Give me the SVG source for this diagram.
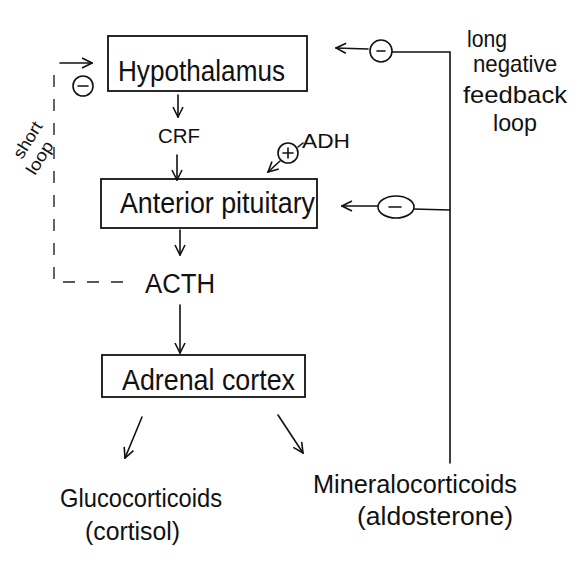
<svg xmlns="http://www.w3.org/2000/svg" width="586" height="578" viewBox="0 0 586 578">
<defs>
<style>
text{font-family:"Liberation Sans",Arial,sans-serif;fill:#111;}
.box{fill:none;stroke:#111;stroke-width:1.8;}
.ln{fill:none;stroke:#111;stroke-width:1.6;stroke-linecap:round;}
.dash{fill:none;stroke:#222;stroke-width:1.4;stroke-dasharray:12 12;}
.circ{fill:#fff;stroke:#111;stroke-width:1.6;}
</style>
<marker id="ah" viewBox="0 0 12 12" refX="11" refY="6" markerWidth="12" markerHeight="12" markerUnits="userSpaceOnUse" orient="auto">
<path d="M1,1 L11,6 L1,11" fill="none" stroke="#111" stroke-width="1.6"/>
</marker>
</defs>
<rect width="586" height="578" fill="#fff"/>
<g id="hypothalamus">
<rect class="box" x="108" y="36" width="199" height="55"/>
<text x="118" y="81" font-size="29" textLength="167" lengthAdjust="spacingAndGlyphs">Hypothalamus</text>
</g>
<g id="crf"><text x="158" y="143" font-size="20" textLength="42" lengthAdjust="spacingAndGlyphs">CRF</text></g>
<g id="anterior-pituitary">
<rect class="box" x="101" y="179" width="216" height="49"/>
<text x="120" y="213" font-size="29" textLength="195" lengthAdjust="spacingAndGlyphs">Anterior pituitary</text>
</g>
<g id="acth"><text x="145" y="293" font-size="27" textLength="70" lengthAdjust="spacingAndGlyphs">ACTH</text></g>
<g id="adrenal-cortex">
<rect class="box" x="102" y="355" width="203" height="42"/>
<text x="122" y="390" font-size="29" textLength="173" lengthAdjust="spacingAndGlyphs">Adrenal cortex</text>
</g>
<g id="glucocorticoids">
<text x="60" y="507" font-size="26" textLength="162" lengthAdjust="spacingAndGlyphs">Glucocorticoids</text>
<text x="85" y="540" font-size="26" textLength="95" lengthAdjust="spacingAndGlyphs">(cortisol)</text>
</g>
<g id="mineralocorticoids">
<text x="313" y="493" font-size="26" textLength="204" lengthAdjust="spacingAndGlyphs">Mineralocorticoids</text>
<text x="357" y="525" font-size="26" textLength="156" lengthAdjust="spacingAndGlyphs">(aldosterone)</text>
</g>
<g id="adh"><text x="302" y="148" font-size="20" textLength="48" lengthAdjust="spacingAndGlyphs">ADH</text></g>
<g id="long-loop-label" font-size="24">
<text x="467" y="47" textLength="40" lengthAdjust="spacingAndGlyphs">long</text>
<text x="473" y="72" textLength="84" lengthAdjust="spacingAndGlyphs">negative</text>
<text x="463" y="103" textLength="104" lengthAdjust="spacingAndGlyphs">feedback</text>
<text x="493" y="131" textLength="44" lengthAdjust="spacingAndGlyphs">loop</text>
</g>
<g id="short-loop-label">
<text x="0" y="0" font-size="17" textLength="40" lengthAdjust="spacingAndGlyphs" transform="translate(22,160) rotate(-58)">short</text>
<text x="0" y="0" font-size="17" textLength="36" lengthAdjust="spacingAndGlyphs" transform="translate(35,176) rotate(-58)">loop</text>
</g>
<g id="connectors">
<line class="ln" x1="178" y1="95" x2="178" y2="117" marker-end="url(#ah)"/>
<line class="ln" x1="177" y1="155" x2="177" y2="180" marker-end="url(#ah)"/>
<line class="ln" x1="180" y1="230" x2="180" y2="255" marker-end="url(#ah)"/>
<line class="ln" x1="180" y1="305" x2="180" y2="353" marker-end="url(#ah)"/>
<line class="ln" x1="142" y1="417" x2="125" y2="458" marker-end="url(#ah)"/>
<line class="ln" x1="278" y1="415" x2="303" y2="453" marker-end="url(#ah)"/>
<path class="dash" d="M123,282 L54,282 L54,63"/>
<line class="ln" x1="60" y1="63" x2="92" y2="63" marker-end="url(#ah)"/>
<circle class="circ" cx="83" cy="86" r="10"/>
<line class="ln" x1="78" y1="86" x2="88" y2="86"/>
<path class="ln" d="M450,463 L450,52 L392,52"/>
<line class="ln" x1="450" y1="210" x2="413" y2="209"/>
<circle class="circ" cx="381" cy="51" r="11"/>
<line class="ln" x1="377" y1="51" x2="385" y2="51"/>
<line class="ln" x1="368" y1="49" x2="336" y2="48" marker-end="url(#ah)"/>
<ellipse class="circ" cx="396" cy="207" rx="18" ry="11"/>
<line class="ln" x1="389" y1="207" x2="401" y2="207"/>
<line class="ln" x1="377" y1="206" x2="342" y2="206" marker-end="url(#ah)"/>
<line class="ln" x1="298" y1="147" x2="303" y2="143"/>
<circle class="circ" cx="288" cy="153" r="10"/>
<line class="ln" x1="283" y1="153" x2="293" y2="153"/>
<line class="ln" x1="288" y1="148" x2="288" y2="158"/>
<line class="ln" x1="280" y1="161" x2="268" y2="172" marker-end="url(#ah)"/>
</g>
</svg>
